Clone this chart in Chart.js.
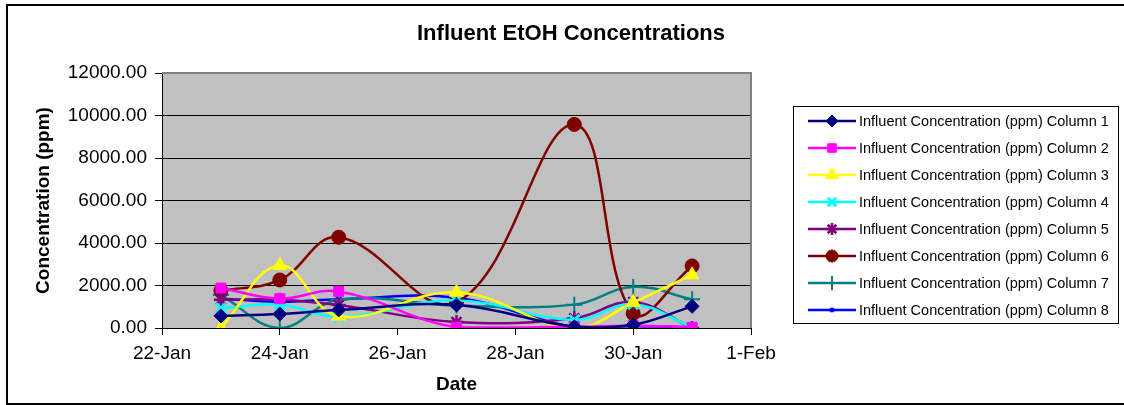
<!DOCTYPE html>
<html>
<head>
<meta charset="utf-8">
<title>Influent EtOH Concentrations</title>
<script src="https://cdn.jsdelivr.net/npm/chart.js@4.4.1/dist/chart.umd.min.js"></script>
<style>
  html, body { margin: 0; padding: 0; background: #fff; }
  canvas { display: block; }
</style>
</head>
<body>
<canvas id="myChart" width="1124" height="405"></canvas>
<script>
// sample days (day of January, 32 = 1-Feb)
const sampleDays = [23, 24, 25, 27, 29, 30, 31];
const tickDays = [22, 24, 26, 28, 30, 32];
const tickLabels = ['22-Jan', '24-Jan', '26-Jan', '28-Jan', '30-Jan', '1-Feb'];
const yTicks = [0, 2000, 4000, 6000, 8000, 10000, 12000];

// influent concentration (ppm) per column
const column1 = [570, 660, 850, 1080, 60, 150, 1020];
const column2 = [1880, 1380, 1720, 30, 60, 110, 30];
const column3 = [0, 2950, 560, 1680, 0, 1200, 2500];
const column4 = [930, 1100, 530, 1300, 380, 1120, 40];
const column5 = [1330, 1330, 1080, 280, 460, 1220, 0];
const column6 = [1750, 2260, 4270, 1220, 9580, 680, 2920];
const column7 = [1550, 0, 1330, 1060, 1100, 1940, 1350];
const column8 = [1380, 1230, 1350, 1420, 40, 80, 40];

const columns = [column1, column2, column3, column4, column5, column6, column7, column8];
const seriesNames = columns.map((c, i) => 'Influent Concentration (ppm) Column ' + (i + 1));
const colors = ['#000080', '#FF00FF', '#FFFF00', '#00FFFF', '#800080', '#800000', '#008080', '#0000FF'];
const markers = [
  { pointStyle: 'rectRot', radius: 7, borderWidth: 1 },
  { pointStyle: 'rect', radius: 7, borderWidth: 1 },
  { pointStyle: 'triangle', radius: 8, borderWidth: 1 },
  { pointStyle: 'crossRot', radius: 7, borderWidth: 3 },
  { pointStyle: 'star', radius: 7, borderWidth: 2.5 },
  { pointStyle: 'circle', radius: 7, borderWidth: 1 },
  { pointStyle: 'cross', radius: 8, borderWidth: 2 },
  { pointStyle: 'rect', radius: 3.5, borderWidth: 1 }
];

const datasets = columns.map((vals, i) => ({
  label: seriesNames[i],
  data: vals.map((v, j) => ({ x: sampleDays[j], y: v })),
  borderColor: colors[i],
  backgroundColor: colors[i],
  borderWidth: 2.5,
  tension: 0.4,
  pointStyle: markers[i].pointStyle,
  pointRadius: markers[i].radius,
  pointBorderWidth: markers[i].borderWidth,
  pointBackgroundColor: colors[i],
  pointBorderColor: colors[i]
}));

// grey plot background, frame, title and the boxed legend
const chartDecor = {
  id: 'chartDecor',
  beforeDraw(chart) {
    const { ctx, chartArea: a } = chart;
    ctx.save();
    ctx.fillStyle = '#C0C0C0';
    ctx.fillRect(a.left, a.top, a.right - a.left, a.bottom - a.top);
    ctx.restore();
  },
  afterDraw(chart) {
    const { ctx, chartArea: a } = chart;
    ctx.save();
    // plot border (top and right)
    ctx.strokeStyle = '#808080';
    ctx.lineWidth = 2;
    ctx.beginPath();
    ctx.moveTo(a.left, a.top);
    ctx.lineTo(a.right, a.top);
    ctx.lineTo(a.right, a.bottom);
    ctx.stroke();

    // outer frame
    ctx.strokeStyle = '#000';
    ctx.lineWidth = 2;
    ctx.strokeRect(7, 5, 1130, 399);

    // title
    ctx.fillStyle = '#000';
    ctx.font = 'bold 22px Arial, "Liberation Sans", sans-serif';
    ctx.textAlign = 'center';
    ctx.textBaseline = 'middle';
    ctx.fillText('Influent EtOH Concentrations', 571, 34);

    // legend
    const lx = 793, ly = 106, lw = 325, lh = 217, rowH = 27;
    ctx.strokeStyle = '#000';
    ctx.lineWidth = 1;
    ctx.strokeRect(lx + 0.5, ly + 0.5, lw, lh);
    ctx.font = '14.5px Arial, "Liberation Sans", sans-serif';
    ctx.textAlign = 'left';
    chart.data.datasets.forEach((ds, i) => {
      const y = ly + 15 + i * rowH;
      ctx.strokeStyle = ds.borderColor;
      ctx.lineWidth = 2.5;
      ctx.beginPath();
      ctx.moveTo(808, y);
      ctx.lineTo(856, y);
      ctx.stroke();
      ctx.fillStyle = ds.pointBackgroundColor;
      ctx.strokeStyle = ds.pointBorderColor;
      ctx.lineWidth = ds.pointBorderWidth;
      Chart.helpers.drawPoint(ctx, {
        pointStyle: ds.pointStyle,
        radius: ds.pointRadius - 1,
        borderWidth: ds.pointBorderWidth,
        rotation: 0
      }, 832, y);
      ctx.fillStyle = '#000';
      ctx.fillText(ds.label, 859, y + 1);
    });
    ctx.restore();
  }
};

const ctx = document.getElementById('myChart').getContext('2d');
const myChart = new Chart(ctx, {
  type: 'line',
  data: { datasets: datasets },
  plugins: [chartDecor],
  options: {
    responsive: false,
    animation: false,
    layout: { padding: { left: 0, top: 73, right: 373, bottom: 0 } },
    plugins: {
      legend: { display: false },
      title: { display: false },
      tooltip: { enabled: false }
    },
    scales: {
      x: {
        type: 'linear',
        min: tickDays[0],
        max: tickDays[tickDays.length - 1],
        afterBuildTicks: (scale) => { scale.ticks = tickDays.map(v => ({ value: v })); },
        afterFit: (scale) => { scale.height = 77; },
        ticks: {
          callback: (v) => tickLabels[tickDays.indexOf(v)],
          color: '#000',
          font: { family: 'Arial, "Liberation Sans", sans-serif', size: 19 },
          padding: 7,
          maxRotation: 0,
          autoSkip: false
        },
        grid: { drawOnChartArea: false, tickLength: 7, tickColor: '#000' },
        border: { color: '#000', width: 1 },
        title: {
          display: true,
          text: 'Date',
          color: '#000',
          font: { family: 'Arial, "Liberation Sans", sans-serif', size: 19, weight: 'bold' },
          padding: { top: 0, bottom: 9 }
        }
      },
      y: {
        min: 0,
        max: 12000,
        afterBuildTicks: (scale) => { scale.ticks = yTicks.map(v => ({ value: v })); },
        afterFit: (scale) => { scale.width = 162; },
        ticks: {
          callback: (v) => v.toFixed(2),
          color: '#000',
          font: { family: 'Arial, "Liberation Sans", sans-serif', size: 19 },
          padding: 8
        },
        grid: { color: '#000', lineWidth: 1, tickLength: 7, tickColor: '#000' },
        border: { color: '#000', width: 1 },
        title: {
          display: true,
          text: 'Concentration (ppm)',
          color: '#000',
          font: { family: 'Arial, "Liberation Sans", sans-serif', size: 19, weight: 'bold' },
          padding: { top: 32, bottom: 0 }
        }
      }
    }
  }
});
</script>
</body>
</html>
